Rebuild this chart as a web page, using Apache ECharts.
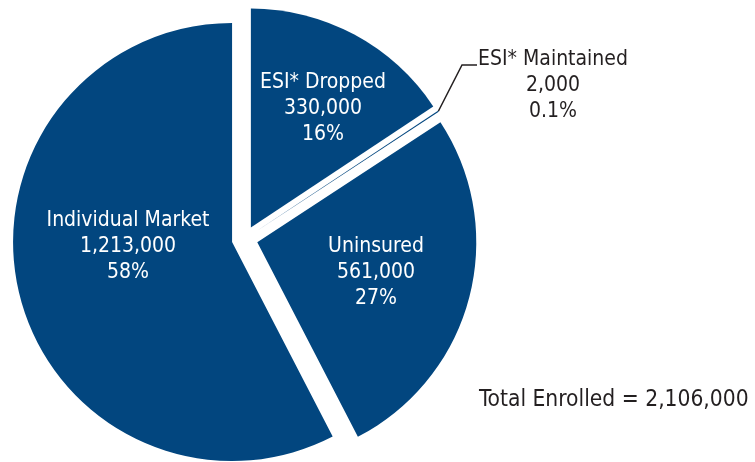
<!DOCTYPE html>
<html>
<head>
<meta charset="utf-8">
<script src="https://cdn.jsdelivr.net/npm/echarts@6/dist/echarts.min.js"></script>
<style>
html,body{margin:0;padding:0;background:#fff;}
#chart{width:755px;height:462px;}
</style>
</head>
<body>
<div id="chart"></div>
<script>
// ---- data ----
var categories = ['ESI* Dropped', 'ESI* Maintained', 'Uninsured', 'Individual Market'];
var enrollees = [330000, 2000, 561000, 1213000];
var percentLabels = ['16%', '0.1%', '27%', '58%'];
var totalLabel = 'Total Enrolled = 2,106,000';

// ---- styles / layout ----
var BLUE = '#02467f';
var DARK = '#231f20';
var FONT = "'DejaVu Sans Condensed', 'Liberation Sans Narrow', sans-serif";
var LABEL_SIZE = 21;
var BASE_CENTER = [244.7, 239];
var RADIUS = 219;
var EXPLODE = 13;
var labelSpots = [[323, 109], [553, 86], [376, 273], [128, 247]];

function fmt(n) { return n.toString().replace(/\B(?=(\d{3})+(?!\d))/g, ','); }

var total = enrollees.reduce(function (a, b) { return a + b; }, 0);

// one pie series per slice (same angles), each shifted outward along its bisector
var series = [];
var acc = 0;
categories.forEach(function (cat, i) {
  var mid = (acc + enrollees[i] / 2) / total * Math.PI * 2;
  acc += enrollees[i];
  var cx = BASE_CENTER[0] + EXPLODE * Math.sin(mid);
  var cy = BASE_CENTER[1] - EXPLODE * Math.cos(mid);
  var data = categories.map(function (c, j) {
    if (j !== i) {
      return {
        name: c, value: enrollees[j],
        itemStyle: { color: 'rgba(0,0,0,0)' },
        label: { show: false }, labelLine: { show: false }
      };
    }
    return {
      name: c, value: enrollees[j],
      itemStyle: { color: BLUE },
      label: {
        show: true,
        position: j === 1 ? 'outside' : 'inner',
        color: j === 1 ? DARK : '#ffffff'
      },
      labelLine: { show: j === 1 }
    };
  });
  series.push({
    type: 'pie',
    center: [cx, cy],
    radius: RADIUS,
    startAngle: 90,
    clockwise: true,
    silent: true,
    avoidLabelOverlap: false,
    emphasis: { disabled: true },
    itemStyle: { borderWidth: 0 },
    label: {
      fontFamily: FONT,
      fontSize: LABEL_SIZE,
      lineHeight: 26,
      align: 'center',
      formatter: function (p) {
        return p.name + '\n' + fmt(p.value) + '\n' + percentLabels[p.dataIndex];
      }
    },
    labelLine: { lineStyle: { color: DARK, width: 1.5 } },
    labelLayout: function (p) {
      if (p.dataIndex !== i) return {};
      var s = labelSpots[p.dataIndex];
      var o = { x: s[0], y: s[1], align: 'center', verticalAlign: 'middle' };
      if (p.dataIndex === 1) {
        var start = (p.labelLinePoints && p.labelLinePoints[0]) ? p.labelLinePoints[0] : [440, 113];
        o.labelLinePoints = [start, [462, 65], [477, 65]];
      }
      return o;
    },
    data: data
  });
});

var chart = echarts.init(document.getElementById('chart'), null, { renderer: 'canvas' });
chart.setOption({
  animation: false,
  backgroundColor: '#ffffff',
  title: {
    text: totalLabel,
    left: 474,
    top: 382,
    textStyle: { fontFamily: FONT, fontSize: 22.6, fontWeight: 'normal', color: DARK, lineHeight: 26 }
  },
  series: series
});
</script>
</body>
</html>
